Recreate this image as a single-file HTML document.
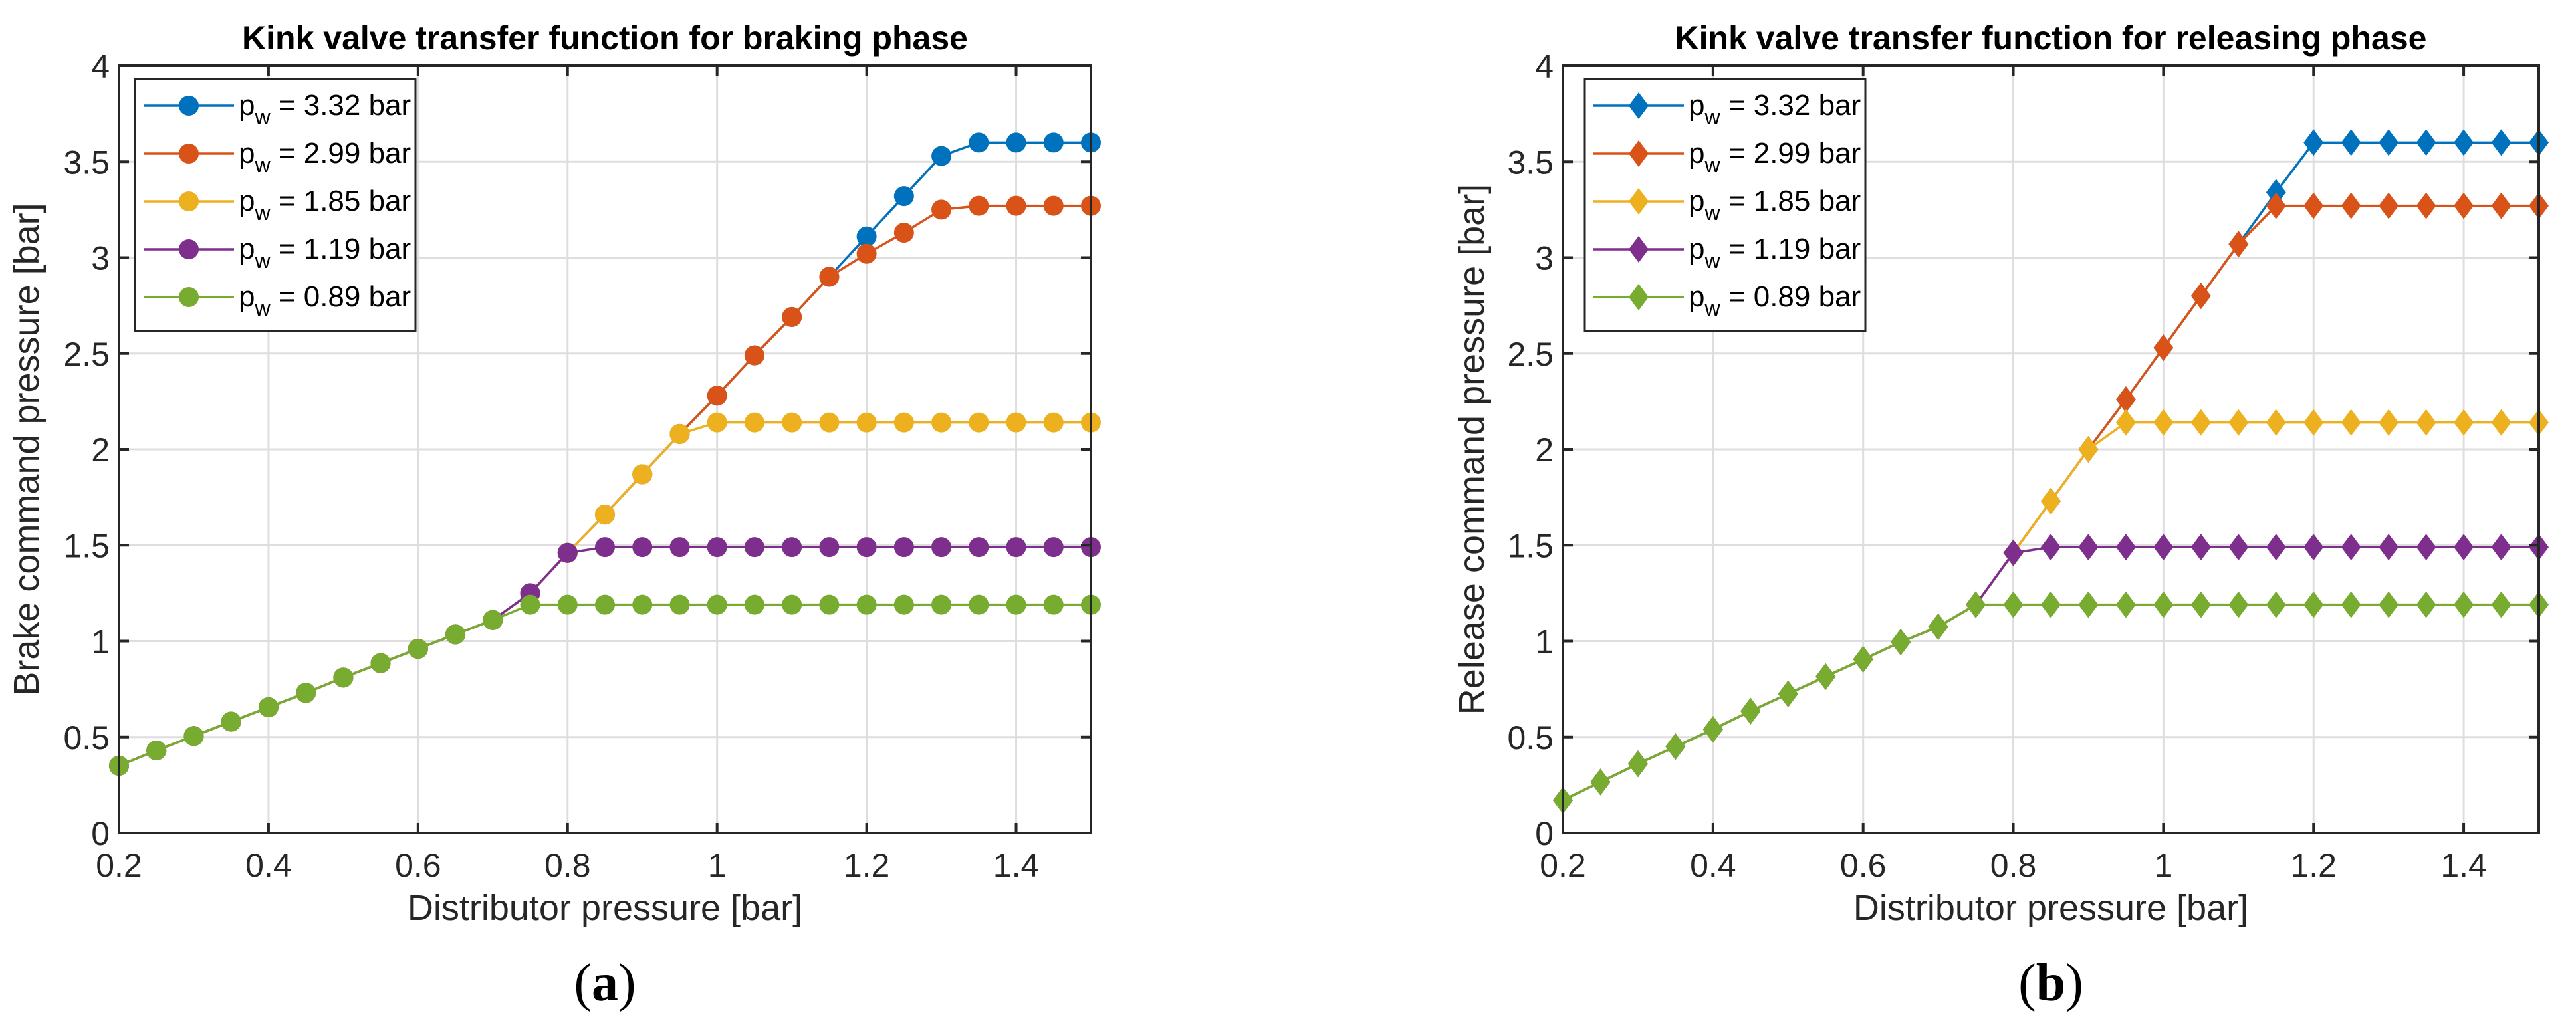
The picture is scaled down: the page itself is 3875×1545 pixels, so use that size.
<!DOCTYPE html>
<html><head><meta charset="utf-8"><style>
html,body{margin:0;padding:0;background:#fff;}
svg{display:block;font-family:"Liberation Sans",Arial,sans-serif;}
</style></head><body>
<svg id="fig" width="3875" height="1545" viewBox="0 0 3875 1545" xmlns="http://www.w3.org/2000/svg"></svg>
<script>
const xValues = [0.2,0.25,0.3,0.35,0.4,0.45,0.5,0.55,0.6,0.65,0.7,0.75,0.8,0.85,0.9,0.95,1.0,1.05,1.1,1.15,1.2,1.25,1.3,1.35,1.4,1.45,1.5];
const seriesLabels = ["3.32","2.99","1.85","1.19","0.89"];
const xTicks = [0.2,0.4,0.6,0.8,1,1.2,1.4];
const yTicks = [0,0.5,1,1.5,2,2.5,3,3.5,4];
const brakeBase = [0.35,0.43,0.505,0.58,0.655,0.73,0.81,0.885,0.96,1.035,1.11];
const brakeBlue   = brakeBase.concat([1.25,1.46,1.66,1.87,2.08,2.28,2.49,2.69,2.90,3.11,3.32,3.53,3.60,3.60,3.60,3.60]);
const brakeOrange = brakeBase.concat([1.25,1.46,1.66,1.87,2.08,2.28,2.49,2.69,2.90,3.02,3.13,3.25,3.27,3.27,3.27,3.27]);
const brakeYellow = brakeBase.concat([1.25,1.46,1.66,1.87,2.08,2.14,2.14,2.14,2.14,2.14,2.14,2.14,2.14,2.14,2.14,2.14]);
const brakePurple = brakeBase.concat([1.25,1.46,1.49,1.49,1.49,1.49,1.49,1.49,1.49,1.49,1.49,1.49,1.49,1.49,1.49,1.49]);
const brakeGreen  = brakeBase.concat([1.19,1.19,1.19,1.19,1.19,1.19,1.19,1.19,1.19,1.19,1.19,1.19,1.19,1.19,1.19,1.19]);
const relBase = [0.17,0.265,0.36,0.45,0.54,0.635,0.725,0.815,0.905,0.995,1.075,1.19];
const relBlue   = relBase.concat([1.46,1.73,2.0,2.26,2.53,2.80,3.07,3.34,3.60,3.60,3.60,3.60,3.60,3.60,3.60]);
const relOrange = relBase.concat([1.46,1.73,2.0,2.26,2.53,2.80,3.07,3.27,3.27,3.27,3.27,3.27,3.27,3.27,3.27]);
const relYellow = relBase.concat([1.46,1.73,2.0,2.14,2.14,2.14,2.14,2.14,2.14,2.14,2.14,2.14,2.14,2.14,2.14]);
const relPurple = relBase.concat([1.46,1.49,1.49,1.49,1.49,1.49,1.49,1.49,1.49,1.49,1.49,1.49,1.49,1.49,1.49]);
const relGreen  = relBase.concat([1.19,1.19,1.19,1.19,1.19,1.19,1.19,1.19,1.19,1.19,1.19,1.19,1.19,1.19,1.19]);

const COLORS = ["#0072BD","#D95319","#EDB120","#7E2F8E","#77AC30"];
const NS = "http://www.w3.org/2000/svg";
const svg = document.getElementById("fig");
function el(tag, attrs, parent){const e=document.createElementNS(NS,tag);for(const k in attrs)e.setAttribute(k,attrs[k]);(parent||svg).appendChild(e);return e;}

function drawPanel(cfg){
  const L=cfg.left,R=cfg.right,T=99,B=1253;
  const sx=v=>L+(v-0.2)/(1.5-0.2)*(R-L);
  const sy=v=>B-(v/4)*(B-T);
  const g=el("g",{});
  
  
  xTicks.forEach(t=>{if(t>0.2&&t<1.5){const l=el("line",{x1:sx(t),x2:sx(t),y1:T,y2:B,stroke:"#dedede","stroke-width":3},g);
    }});
  yTicks.forEach(t=>{if(t>0&&t<4){const l=el("line",{x1:L,x2:R,y1:sy(t),y2:sy(t),stroke:"#dedede","stroke-width":3},g);
    }});
  cfg.series.forEach((s,i)=>{
    const pts=xValues.map((x,j)=>[sx(x),sy(s[j])]);
    const pl=el("polyline",{points:pts.map(p=>p.join(",")).join(" "),fill:"none",stroke:COLORS[i],"stroke-width":3.5},g);
    
    
    pts.forEach(p=>{
      let m;
      if(cfg.marker==="circle") m=el("circle",{cx:p[0],cy:p[1],r:15,fill:COLORS[i]},g);
      else m=el("polygon",{points:`${p[0]},${p[1]-20} ${p[0]+15},${p[1]} ${p[0]},${p[1]+20} ${p[0]-15},${p[1]}`,fill:COLORS[i]},g);
      
      
    });
  });
  const box=el("rect",{x:L,y:T,width:R-L,height:B-T,fill:"none",stroke:"#262626","stroke-width":4},g);
  
  xTicks.forEach(t=>{
    el("line",{x1:sx(t),x2:sx(t),y1:B,y2:B-15,stroke:"#262626","stroke-width":4},g);
    el("line",{x1:sx(t),x2:sx(t),y1:T,y2:T+15,stroke:"#262626","stroke-width":4},g);
    const tx=el("text",{x:sx(t),y:B+66,"text-anchor":"middle","font-size":50,fill:"#262626"},g);
    tx.textContent=String(t);
    
  });
  yTicks.forEach(t=>{
    el("line",{x1:L,x2:L+15,y1:sy(t),y2:sy(t),stroke:"#262626","stroke-width":4},g);
    el("line",{x1:R,x2:R-15,y1:sy(t),y2:sy(t),stroke:"#262626","stroke-width":4},g);
    const tx=el("text",{x:L-14,y:sy(t)+18,"text-anchor":"end","font-size":50,fill:"#262626"},g);
    tx.textContent=String(t);
    
  });
  const cx=(L+R)/2;
  const title=el("text",{x:cx,y:74,"text-anchor":"middle","font-size":50,"font-weight":"bold",fill:"#000"},g);
  title.textContent=cfg.title;
  const xt=el("text",{x:cx,y:1384,"text-anchor":"middle","font-size":54,fill:"#262626"},g);
  xt.textContent="Distributor pressure [bar]";
  const yx=cfg.ytitleX, yc=(T+B)/2;
  const yt=el("text",{x:yx,y:yc,"text-anchor":"middle","font-size":54,fill:"#262626",transform:`rotate(-90 ${yx} ${yc})`},g);
  yt.textContent=cfg.ytitle;
  const cap=el("text",{x:cx,y:1505,"text-anchor":"middle","font-size":80,"font-family":"Liberation Serif,serif",fill:"#000"},g);
  cap.innerHTML='(<tspan font-weight="bold">'+cfg.caption+'</tspan>)';
  
  const lg=el("g",{},g);
  
  const lx=cfg.legendX, lw=cfg.legendW;
  el("rect",{x:lx,y:119,width:lw,height:379,fill:"#fff",stroke:"#262626","stroke-width":3},lg);
  seriesLabels.forEach((lab,i)=>{
    const y=159+72*i;
    const e=el("g",{},lg);
    
    el("line",{x1:lx+13,x2:lx+149,y1:y,y2:y,stroke:COLORS[i],"stroke-width":3.5},e);
    const mx=lx+81;
    if(cfg.marker==="circle") el("circle",{cx:mx,cy:y,r:15,fill:COLORS[i]},e);
    else el("polygon",{points:`${mx},${y-20} ${mx+15},${y} ${mx},${y+20} ${mx-15},${y}`,fill:COLORS[i]},e);
    const t=el("text",{x:lx+156,y:y+14,"font-size":44,fill:"#000"},e);
    t.innerHTML='p<tspan font-size="32" dy="14">w</tspan><tspan dy="-14"> = '+lab+' bar</tspan>';
  });
}
drawPanel({name:"braking-chart",left:179,right:1641,marker:"circle",title:"Kink valve transfer function for braking phase",
  ytitle:"Brake command pressure [bar]",ytitleX:58,caption:"a",legendX:203,legendW:422,
  series:[brakeBlue,brakeOrange,brakeYellow,brakePurple,brakeGreen]});
drawPanel({name:"releasing-chart",left:2351,right:3819,marker:"diamond",title:"Kink valve transfer function for releasing phase",
  ytitle:"Release command pressure [bar]",ytitleX:2232,caption:"b",legendX:2384,legendW:422,
  series:[relBlue,relOrange,relYellow,relPurple,relGreen]});
</script>
</body></html>
